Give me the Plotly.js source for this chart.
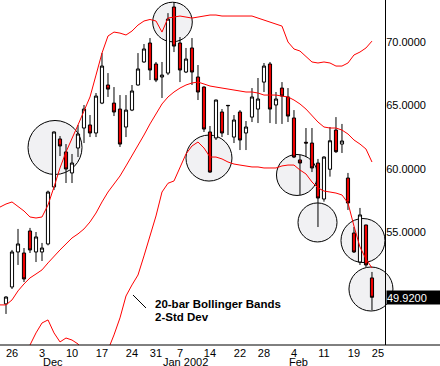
<!DOCTYPE html>
<html>
<head>
<meta charset="utf-8">
<script src="https://cdn.plot.ly/plotly-3.0.1.min.js"></script>
<style>html,body{margin:0;padding:0;background:#fff;}#chart{width:440px;height:366px;}</style>
</head>
<body>
<div id="chart"></div>
<script>
// ---- DATA (bar index 0 = Nov 23 2001, trading days) ----
const open  = [49.40,50.73,53.48,53.40,55.13,53.48,53.48,54.11,58.59,62.36,61.34,59.69,61.65,63.22,63.46,62.83,65.18,66.60,65.18,64.71,63.30,64.63,66.60,68.41,69.90,68.25,67.23,67.54,72.73,69.90,67.62,69.51,67.23,66.44,62.91,62.44,64.48,65.00,62.51,64.48,62.83,64.08,64.71,66.83,68.25,65.03,66.36,65.66,64.01,60.71,62.10,62.04,60.47,57.64,59.98,63.06,61.96,59.29,54.97,52.69,55.60,51.44];
const high  = [50.00,53.64,55.29,53.79,55.37,55.05,54.19,58.30,62.95,62.59,61.96,61.18,63.46,65.03,64.24,65.97,69.11,67.54,66.44,65.81,65.81,66.60,69.11,69.82,70.29,68.41,68.41,72.25,73.12,70.37,69.51,70.29,68.17,66.50,63.38,65.45,64.71,65.03,64.24,64.63,63.77,66.36,67.15,68.33,68.41,66.05,66.83,66.36,64.63,61.10,63.22,63.22,60.79,61.00,63.30,64.08,63.54,59.69,55.44,56.94,55.62,51.91];
const low   = [48.61,50.57,52.46,51.12,53.40,52.69,52.77,54.00,58.35,61.02,58.90,58.90,60.94,62.04,62.51,62.51,65.10,65.66,64.16,61.73,62.51,64.55,66.55,68.35,66.99,66.83,65.58,67.38,69.19,66.83,67.54,66.60,65.42,62.91,59.70,62.28,62.51,62.67,62.04,61.49,61.49,63.69,63.61,66.05,63.61,63.54,63.54,63.69,60.86,57.96,60.94,59.76,55.44,57.43,59.40,61.26,61.26,56.78,53.40,52.46,52.30,48.92];
const close = [49.94,53.48,54.11,51.36,53.64,54.66,53.79,58.19,62.91,61.81,60.00,60.47,62.75,64.71,62.83,65.73,68.09,66.28,64.48,61.96,64.63,66.13,67.86,69.43,67.78,66.99,67.38,71.78,69.66,67.78,68.64,67.62,66.05,63.14,59.76,65.42,62.83,64.98,63.85,62.28,63.30,65.66,65.50,68.09,64.71,65.50,65.73,64.16,60.94,60.47,62.04,60.08,57.72,60.94,62.22,61.36,62.20,57.33,53.48,56.39,52.46,49.92];

// Bollinger bands (20-bar, 2 std dev), bar index -1 .. 61
const upperBand  = [57.01,57.25,57.41,57.09,56.70,56.23,56.15,56.23,57.17,58.59,60.08,61.34,62.36,63.46,64.56,65.66,67.38,69.11,70.45,70.76,70.68,70.53,70.84,71.31,71.63,71.75,71.63,70.76,71.86,71.94,72.02,71.94,71.86,71.94,72.02,72.10,72.10,72.02,72.02,72.02,72.02,72.02,72.02,71.86,71.70,71.55,71.39,71.23,69.98,69.43,69.27,68.80,68.41,68.33,68.41,68.33,68.09,68.09,68.33,68.96,69.19,69.51,70.05];
const middleBand = [49.32,49.32,49.71,50.42,50.97,51.44,51.75,52.07,52.62,53.17,53.64,54.11,54.58,54.90,55.29,55.84,56.54,57.41,58.19,58.82,59.45,60.24,61.02,61.81,62.67,63.54,64.32,65.11,65.66,66.05,66.36,66.60,66.76,66.83,66.68,66.52,66.44,66.36,66.28,66.21,66.13,66.05,66.05,65.97,65.81,65.81,65.81,65.73,65.66,65.42,65.11,64.71,64.16,63.69,63.30,63.22,63.22,63.06,62.75,62.28,61.96,61.57,60.55];
const lowerBand  = [45.15,45.23,45.31,45.39,45.62,46.17,47.12,47.90,48.14,47.12,46.41,46.72,46.56,46.25,45.62,45.00,44.84,45.15,45.78,46.96,48.30,50.02,50.89,51.67,53.17,54.66,56.31,58.19,58.88,59.06,60.16,61.18,61.81,62.12,61.65,60.94,60.94,60.79,60.55,60.39,60.31,60.24,60.16,60.16,60.08,60.08,60.08,60.24,60.31,60.31,59.92,59.61,58.98,58.51,58.27,58.19,58.11,57.96,57.33,55.52,53.87,52.93,52.22];

// x-axis labels
const tickIdx   = [1,6,11,16,21,25,29,34,39,43,48,53,58,62];
const tickText  = ['26','3','10','17','24','31','7','14','22','28','4','11','19','25'];
const monthIdx  = [6,26,47];
const monthText = ['Dec','Jan 2002','Feb'];
const priceTicks = [55,60,65,70];

// highlight circles: [bar index, price, radius px]
const circles = [[8.17,61.69,27],[27.75,71.55,19.8],[33.83,60.86,23],[48.5,59.53,20.5],[51.92,55.80,19.5],[59.5,54.38,22],[60.83,50.57,22]];

// ---- CHART ----
const barIdx = close.map((_, i) => i);
const bandIdx = upperBand.map((_, i) => i - 1);
const xr = [-1, 63.17], yr = [46.17, 73.28];
const plotW = 385, plotH = 345;
const font = 'Arial, "Liberation Sans", sans-serif';

const band = (y, name) => ({type:'scatter', mode:'lines', x: bandIdx, y: y, name: name,
  line:{color:'#ff0000', width:1}, hoverinfo:'skip', showlegend:false});

const traces = [
  band(upperBand,'upper'), band(middleBand,'middle'), band(lowerBand,'lower'),
  {type:'candlestick', x: barIdx, open, high, low, close, whiskerwidth:0,
   increasing:{line:{color:'#000', width:1}, fillcolor:'#ffffff'},
   decreasing:{line:{color:'#000', width:1}, fillcolor:'#ee0000'},
   hoverinfo:'none', showlegend:false}
];

const shapes = circles.map(c => {
  const cx = (c[0]-xr[0])/(xr[1]-xr[0]), cy = (c[1]-yr[0])/(yr[1]-yr[0]);
  const rx = c[2]/plotW, ry = c[2]/plotH;
  return {type:'circle', xref:'paper', yref:'paper', x0:cx-rx, x1:cx+rx, y0:cy-ry, y1:cy+ry,
    fillcolor:'#f1f1f3', line:{color:'#000', width:1}, layer:'below'};
});
shapes.push({type:'line', xref:'paper', yref:'paper', x0:0, x1:440/plotW, y0:0, y1:0, line:{color:'#000', width:1}});
shapes.push({type:'line', xref:'x', yref:'y', x0:21.17, y0:50.10, x1:23.33, y1:49.08, line:{color:'#000', width:1}});

const annotations = monthIdx.map((k, i) => ({xref:'x', yref:'paper', x:k, y:0, xanchor:'left', yanchor:'top',
  yshift:-9, xshift:-1, text:monthText[i], showarrow:false, font:{family:font, size:11, color:'#000'}}));
annotations.push({xref:'x', yref:'y', x:24.45, y:49.40, xanchor:'left', yanchor:'middle', showarrow:false,
  text:'<b>20-bar Bollinger Bands</b>', font:{family:font, size:11.5, color:'#000'}});
annotations.push({xref:'x', yref:'y', x:24.45, y:48.40, xanchor:'left', yanchor:'middle', showarrow:false,
  text:'<b>2-Std Dev</b>', font:{family:font, size:11.5, color:'#000'}});
const last = close[close.length-1];
annotations.push({xref:'paper', yref:'y', x:1, y:last, xanchor:'left', yanchor:'middle', showarrow:false,
  text:last.toFixed(4), bgcolor:'#000', width:53, height:13, align:'left', borderpad:0, xshift:1,
  font:{family:font, size:11, color:'#fff'}});

const layout = {
  width:440, height:366, margin:{l:0, r:55, t:0, b:21},
  paper_bgcolor:'#fff', plot_bgcolor:'#fff', showlegend:false, boxgap:0.25,
  xaxis:{range:xr, type:'linear', rangeslider:{visible:false}, showgrid:false, zeroline:false,
    showline:false, tickvals:tickIdx, ticktext:tickText, ticks:'', tickfont:{family:font, size:11, color:'#000'}},
  yaxis:{range:yr, side:'right', showgrid:false, zeroline:false, showline:true, linecolor:'#000', linewidth:1,
    tickvals:priceTicks, ticktext:priceTicks.map(v => v.toFixed(4)), ticks:'', ticklabelstandoff:-2,
    tickfont:{family:font, size:11, color:'#000'}},
  shapes, annotations
};

Plotly.newPlot('chart', traces, layout, {staticPlot:true, displayModeBar:false});
</script>
</body>
</html>
